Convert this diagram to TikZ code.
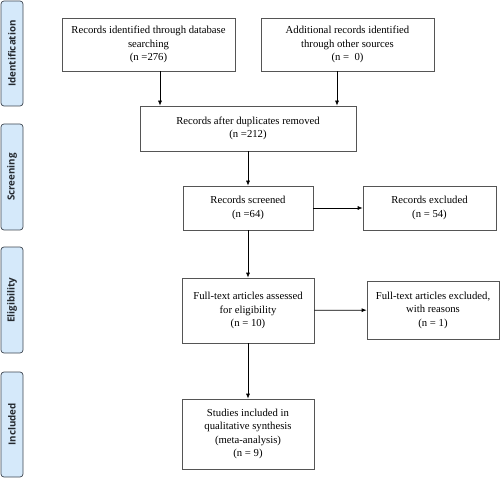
\documentclass[tikz,border=0pt]{standalone}
\usepackage{fontspec}
\setmainfont{Liberation Serif}
\newfontfamily\phasefont{Open Sans}
\usetikzlibrary{arrows.meta}
\definecolor{phasefill}{HTML}{D5E9FA}
\definecolor{phaseline}{HTML}{3E4650}
\definecolor{boxline}{HTML}{555555}

\begin{document}
\begin{tikzpicture}[x=1pt,y=-1pt,
  box/.style={draw=boxline,line width=0.7pt,align=center,inner sep=2pt,
    font=\fontsize{10.7}{13.5}\selectfont},
  phase/.style={draw=phaseline,fill=phasefill,line width=0.7pt,rounded corners=3pt,
    rotate=90,minimum height=22pt,inner sep=0pt,
    font=\phasefont\bfseries\fontsize{9.8}{11}\selectfont,text=phaseline!60!black},
  arr/.style={-{Latex[length=5pt,width=4pt]},line width=0.7pt}]
  \useasboundingbox (0,0) rectangle (500,478);

  % phases
  \node[phase,minimum width=105pt] (ident) at (12,53.5) {Identification};
  \node[phase,minimum width=106pt] (screen) at (12,177) {Screening};
  \node[phase,minimum width=106pt] (elig) at (12,300) {Eligibility};
  \node[phase,minimum width=105pt] (incl) at (12,424.5) {Included};

  % boxes
  \node[box,minimum width=173pt,minimum height=53pt] (dbase) at (148.5,44.5)
    {Records identified through database\\searching\\(n =276)};
  \node[box,minimum width=173pt,minimum height=53pt] (other) at (347.5,44.5)
    {Additional records identified\\through other sources\\(n =\ \ 0)};
  \node[box,minimum width=216pt,minimum height=45pt] (dupl) at (248,128.5)
    {Records after duplicates removed\\(n =212)};
  \node[box,minimum width=130pt,minimum height=44pt] (scrnd) at (248,208)
    {Records screened\\(n =64)};
  \node[box,minimum width=133pt,minimum height=44pt] (excl) at (429.5,208)
    {Records excluded\\(n = 54)};
  \node[box,minimum width=132pt,minimum height=65pt] (full) at (248,310.5)
    {Full-text articles assessed\\for eligibility\\(n = 10)};
  \node[box,minimum width=132pt,minimum height=58pt] (fullex) at (433,310)
    {Full-text articles excluded,\\with reasons\\(n = 1)};
  \node[box,minimum width=132pt,minimum height=70pt] (study) at (248,434)
    {Studies included in\\qualitative synthesis\\(meta-analysis)\\(n = 9)};

  % arrows
  \draw[arr] ([xshift=11.5pt]dbase.south) -- ([xshift=11.5pt]dbase.south |- dupl.north);
  \draw[arr] ([xshift=-10.5pt]other.south) -- ([xshift=-10.5pt]other.south |- dupl.north);
  \draw[arr] (dupl) -- (scrnd);
  \draw[arr] (scrnd) -- (excl);
  \draw[arr] (scrnd) -- (full);
  \draw[arr] (full) -- (fullex);
  \draw[arr] (full) -- (study);
\end{tikzpicture}
\end{document}
